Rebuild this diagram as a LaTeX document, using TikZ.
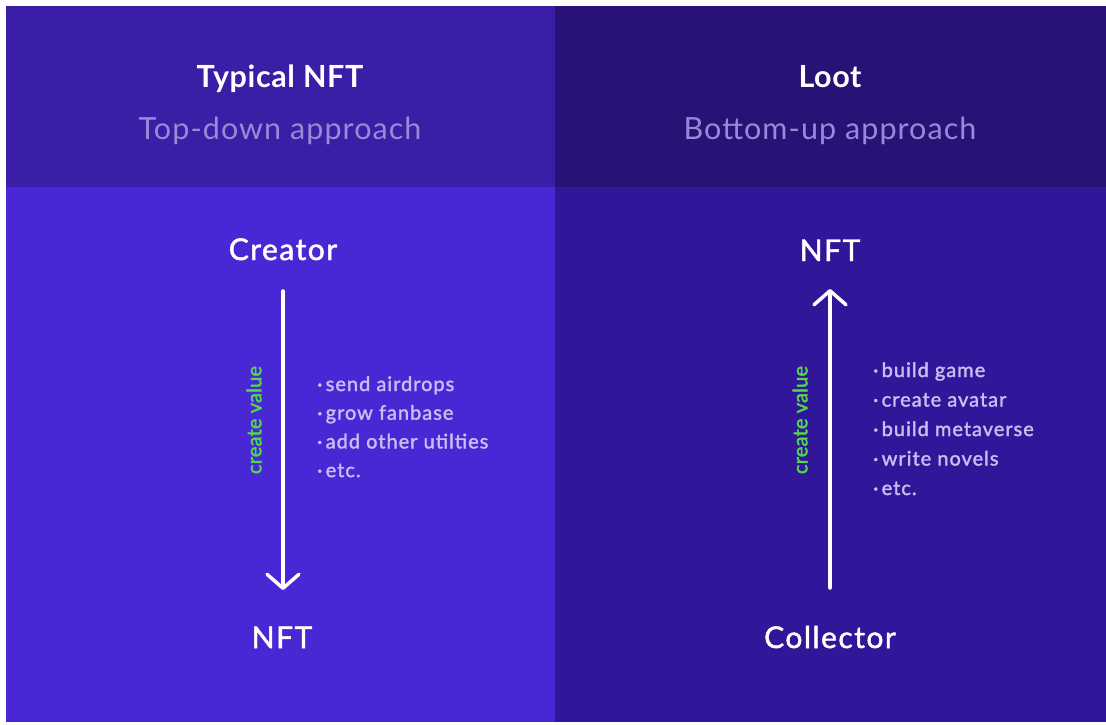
\documentclass[tikz,border=0pt]{standalone}
\usepackage{fontspec}
\setmainfont{Lato}
\newfontfamily\medfont[FakeBold=1.6,LetterSpace=5]{Lato}
\newfontfamily\valfont[FakeBold=2.2,LetterSpace=1]{Lato}
\newfontfamily\subfont[LetterSpace=3.5]{Lato}
\newfontfamily\headfont[LetterSpace=2]{Lato}
\usetikzlibrary{arrows.meta}

\definecolor{headL}{HTML}{3A1EA5}
\definecolor{headR}{HTML}{291276}
\definecolor{bodyL}{HTML}{4A27D5}
\definecolor{bodyR}{HTML}{32169A}
\definecolor{subtxt}{HTML}{9A88D8}
\definecolor{itemtxt}{HTML}{C9BEF2}
\definecolor{valgreen}{HTML}{4FD84A}

\tikzset{
  title/.style={anchor=base, text=white, font=\fontsize{30.5}{36}\selectfont\headfont\bfseries, inner sep=0pt},
  subtitle/.style={anchor=base, text=subtxt, font=\fontsize{30.5}{36}\selectfont\subfont, inner sep=0pt},
  role/.style={anchor=base, text=white, font=\fontsize{30}{34}\selectfont\medfont, inner sep=0pt},
  item/.style={anchor=base west, text=itemtxt, font=\fontsize{20}{24}\selectfont\medfont, inner sep=0pt},
  value/.style={rotate=90, text=valgreen, font=\fontsize{20}{24}\selectfont\valfont, inner sep=0pt},
  flow/.style={white, line width=3.5pt, line cap=round, -{Straight Barb[length=14pt,width=32pt,round]}}
}

\begin{document}
\begin{tikzpicture}[x=1pt,y=-1pt]
% panels
\fill[white] (0,0) rectangle (1106,724);
\fill[headL] (6,6) rectangle (555,187);
\fill[headR] (555,6) rectangle (1106,187);
\fill[bodyL] (6,187) rectangle (555,722);
\fill[bodyR] (555,187) rectangle (1106,722);

% left: top-down
\node[title] (typical) at (280,87) {Typical NFT};
\node[subtitle] (topdown) at (280,139) {Top-down approach};
\node[role] (creator) at (283,260) {Creator};
\node[role] (nftL) at (282,648) {NFT};
\coordinate (ltop) at (283,291);
\coordinate (lbot) at (283,590);
\draw[flow] (ltop) -- (lbot);
\node[value] (valL) at (254,420) {create value};
\foreach \t [count=\i] in {send airdrops, grow fanbase, add other utilties, etc.}
  \node[item] (litem\i) at (317,{391+28.7*(\i-1)}) {·\,\t};

% right: bottom-up
\node[title] (loot) at (830,87) {Loot};
\node[subtitle] (bottomup) at (830,139) {Bottom-up approach};
\node[role] (nftR) at (830,261) {NFT};
\node[role] (collector) at (830,648) {Collector};
\coordinate (rbot) at (830,588);
\coordinate (rtop) at (830,289);
\draw[flow] (rbot) -- (rtop);
\node[value] (valR) at (800,420) {create value};
\foreach \t [count=\i] in {build game, create avatar, build metaverse, write novels, etc.}
  \node[item] (ritem\i) at (873,{377+29.5*(\i-1)}) {·\,\t};
\end{tikzpicture}
\end{document}
